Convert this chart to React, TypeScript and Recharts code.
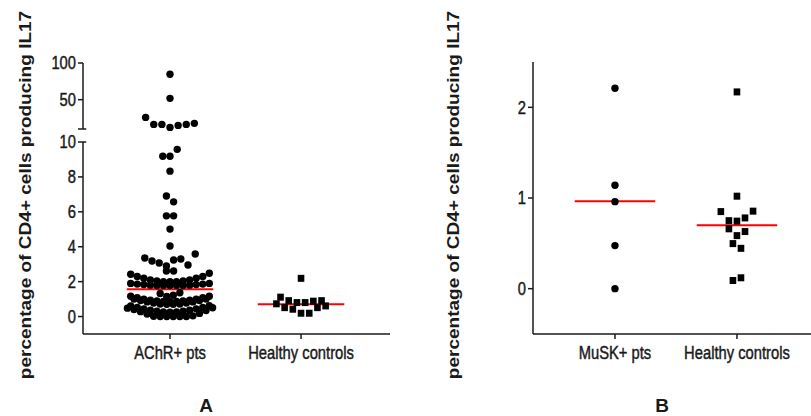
import React from "react"
import { ScatterChart, Scatter, XAxis, YAxis, ReferenceLine } from "recharts"

// values, one inner array per horizontal row of dots
const achrHigh = [[84.6], [51.8], [25.8, 16.3, 16.3, 12.2, 14.9, 16.3, 17.7]]
const achrMid = [
  [9.18, 9.18, 9.58],
  [8.33],
  [6.91, 6.57],
  [5.77, 5.77],
  [5.01],
  [4.04],
  [3.35, 3.18, 3.07, 2.9, 3.24, 3.3, 2.95, 3.58],
  [2.61, 2.61],
]
const achrDense = [
  [2.42, 2.29, 2.19, 2.1, 2.04, 2.0, 2.0, 2.0, 2.04, 2.1, 2.19, 2.29, 2.48],
  [1.9, 1.86, 1.83, 1.8, 1.78, 1.78, 1.78, 1.78, 1.78, 1.8, 1.83, 1.86, 1.9],
  [1.32, 1.15, 1.22, 1.36],
  [1.16, 1.08, 1.0, 0.94, 0.89, 0.86, 0.85, 0.86, 0.89, 0.94, 1.0, 1.08, 1.16],
  [1.0, 0.92, 0.84, 0.77, 0.72, 0.7, 0.7, 0.72, 0.77, 0.84, 0.92, 1.0],
  [0.6, 0.52, 0.44, 0.36, 0.3, 0.26, 0.25, 0.26, 0.3, 0.36, 0.44, 0.52, 0.62],
  [0.48, 0.4, 0.28, 0.14, 0.02, 0, 0, 0, 0, 0, 0.04, 0.18, 0.34, 0.5],
]
const healthyA = [[2.19], [1.11, 0.91, 0.8, 0.8, 0.88, 0.91], [0.73, 0.51, 0.42, 0.19, 0.19, 0.51, 0.61]]
const muskB = [[2.21], [1.14], [0.96], [0.475], [0]]
const healthyB = [[2.17], [1.02], [0.85, 0.75, 0.745, 0.78, 0.855], [0.66, 0.585, 0.63], [0.497, 0.445], [0.09, 0.12]]

const mediansA = [1.57, 0.7]
const mediansB = [0.965, 0.7]
const labelsA = ["AChR+ pts", "Healthy controls"]
const labelsB = ["MuSK+ pts", "Healthy controls"]
const yTicksHigh = [10, 50, 100]
const yTicksLow = [0, 2, 4, 6, 8, 10]
const yTicksB = [0, 1, 2]

const FONT = "'Liberation Sans', Arial, Helvetica, sans-serif"
const INK = "#1a1a1a"
const RED = "#ff0000"

// lay each row out side by side around the group's category position
function spread(rows: number[][], center: number, step: number) {
  return rows.flatMap((row) =>
    row.map((v, i) => ({ x: center + (i - (row.length - 1) / 2) * step, y: v }))
  )
}

const Dot = (props: any) => <circle cx={props.cx} cy={props.cy} r={3.7} fill="#000" />
const Square = (props: any) => (
  <rect x={props.cx - 3.3} y={props.cy - 3.5} width={6.6} height={7} fill="#000" />
)

function YTick(props: any) {
  const { x, y, payload, hide } = props
  if (hide !== undefined && payload.value === hide) return null
  return (
    <g transform={`translate(${x},${y}) scale(0.82,1)`}>
      <text textAnchor="end" dy="0.36em" fontSize={18} fontFamily={FONT} fill={INK}
        stroke={INK} strokeWidth={0.45}>
        {payload.value}
      </text>
    </g>
  )
}

function XTick(props: any) {
  const { x, y, payload, labels } = props
  return (
    <g transform={`translate(${x},${y}) scale(0.82,1)`}>
      <text textAnchor="middle" y={18} fontSize={18} fontFamily={FONT} fill={INK}
        stroke={INK} strokeWidth={0.45}>
        {labels[payload.value - 1]}
      </text>
    </g>
  )
}

const axisStyle = { stroke: INK, strokeWidth: 1.5 }
const domainA: [number, number] = [0.336, 2.679]
const domainB: [number, number] = [0.328, 2.607]

function Titles() {
  const title = "percentage of CD4+ cells producing IL17"
  return (
    <svg width={811} height={416} style={{ position: "absolute", left: 0, top: 0, pointerEvents: "none" }}>
      <text transform="translate(30.7,195) scale(1,1.12) rotate(-90)" textAnchor="middle"
        fontSize={17} fontWeight="bold" fontFamily={FONT} fill={INK}>{title}</text>
      <text transform="translate(459.3,195) scale(1,1.12) rotate(-90)" textAnchor="middle"
        fontSize={17} fontWeight="bold" fontFamily={FONT} fill={INK}>{title}</text>
      <text x={206} y={412} textAnchor="middle" fontSize={19} fontWeight="bold" fontFamily={FONT} fill={INK}>A</text>
      <text x={662} y={412} textAnchor="middle" fontSize={19} fontWeight="bold" fontFamily={FONT} fill={INK}>B</text>
    </svg>
  )
}

export default function App() {
  const achrLow = [...spread(achrMid, 1, 0.055), ...spread(achrDense, 1, 0.05)]
  const achrTop = spread(achrHigh, 1, 0.062)
  const ctrlA = spread(healthyA, 2, 0.0626)
  const musk = spread(muskB, 1, 0.066)
  const ctrlB = spread(healthyB, 2, 0.066)

  return (
    <div style={{ position: "absolute", left: 0, top: 0, width: 811, height: 416, background: "#fff" }}>
      {/* panel A, lower part of the broken axis */}
      <div style={{ position: "absolute", left: 0, top: 0 }}>
        <ScatterChart width={400} height={380} margin={{ top: 142, right: 10, bottom: 0, left: 0 }}>
          <XAxis type="number" dataKey="x" domain={domainA} ticks={[1, 2]} height={46}
            axisLine={axisStyle} tickLine={axisStyle} tickSize={5} tick={<XTick labels={labelsA} />} />
          <YAxis type="number" dataKey="y" domain={[-1, 10]} ticks={yTicksLow} width={83}
            axisLine={axisStyle} tickLine={axisStyle} tickSize={5} tick={<YTick />} />
          <Scatter data={achrLow} shape={<Dot />} isAnimationActive={false} />
          <Scatter data={ctrlA} shape={<Square />} isAnimationActive={false} />
          <ReferenceLine segment={[{ x: 0.67, y: mediansA[0] }, { x: 1.33, y: mediansA[0] }]} stroke={RED} strokeWidth={2} />
          <ReferenceLine segment={[{ x: 1.67, y: mediansA[1] }, { x: 2.33, y: mediansA[1] }]} stroke={RED} strokeWidth={2} />
          <ReferenceLine segment={[{ x: domainA[0], y: 10 }, { x: domainA[0] + 0.025, y: 10 }]} stroke={INK} strokeWidth={1.5} />
        </ScatterChart>
      </div>
      {/* panel A, upper part of the broken axis */}
      <div style={{ position: "absolute", left: 0, top: 0 }}>
        <ScatterChart width={400} height={140} margin={{ top: 63, right: 10, bottom: 11, left: 0 }}>
          <XAxis type="number" dataKey="x" domain={domainA} hide />
          <YAxis type="number" dataKey="y" domain={[10, 100]} ticks={yTicksHigh} width={83}
            axisLine={axisStyle} tickLine={axisStyle} tickSize={5} tick={<YTick hide={10} />} />
          <Scatter data={achrTop} shape={<Dot />} isAnimationActive={false} />
          <ReferenceLine segment={[{ x: domainA[0], y: 10 }, { x: domainA[0] + 0.025, y: 10 }]} stroke={INK} strokeWidth={1.5} />
        </ScatterChart>
      </div>
      {/* panel B */}
      <div style={{ position: "absolute", left: 400, top: 0 }}>
        <ScatterChart width={411} height={380} margin={{ top: 62, right: 0, bottom: 0, left: 0 }}>
          <XAxis type="number" dataKey="x" domain={domainB} ticks={[1, 2]} height={46}
            axisLine={axisStyle} tickLine={axisStyle} tickSize={5} tick={<XTick labels={labelsB} />} />
          <YAxis type="number" dataKey="y" domain={[-0.5, 2.5]} ticks={yTicksB} width={133}
            axisLine={axisStyle} tickLine={axisStyle} tickSize={5} tick={<YTick />} />
          <Scatter data={musk} shape={<Dot />} isAnimationActive={false} />
          <Scatter data={ctrlB} shape={<Square />} isAnimationActive={false} />
          <ReferenceLine segment={[{ x: 0.67, y: mediansB[0] }, { x: 1.33, y: mediansB[0] }]} stroke={RED} strokeWidth={2} />
          <ReferenceLine segment={[{ x: 1.67, y: mediansB[1] }, { x: 2.33, y: mediansB[1] }]} stroke={RED} strokeWidth={2} />
        </ScatterChart>
      </div>
      <Titles />
    </div>
  )
}
